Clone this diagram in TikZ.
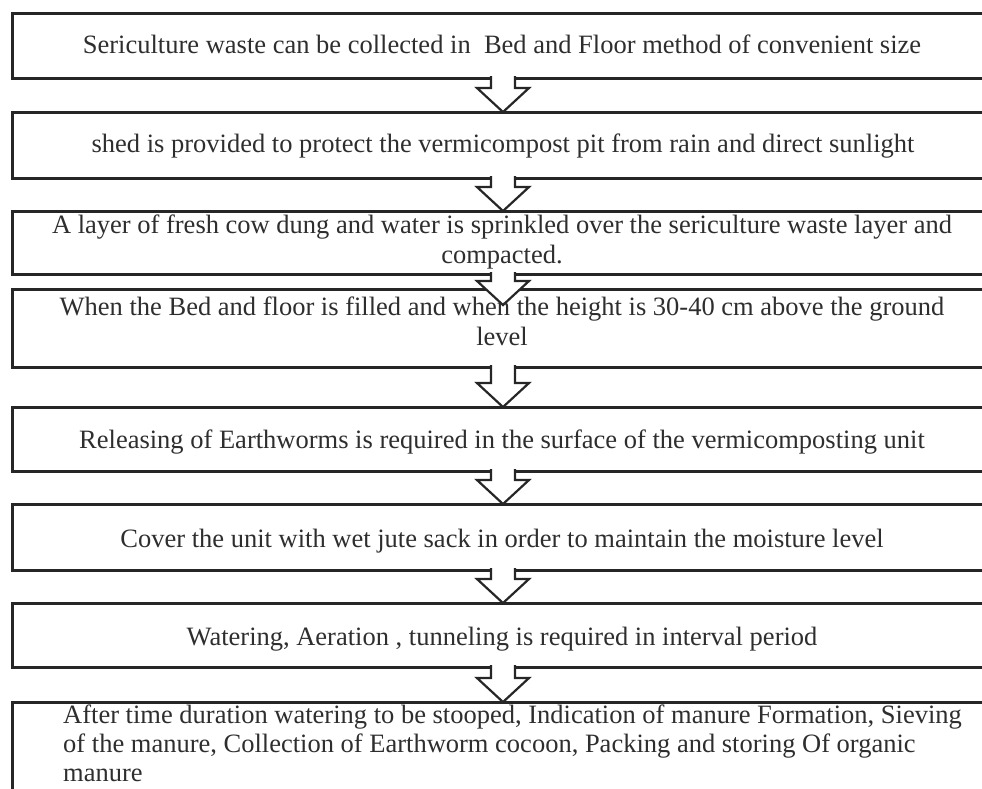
\documentclass[tikz,border=0pt]{standalone}
\usepackage{fontspec}
\setmainfont{Liberation Serif}
\usetikzlibrary{calc}
\definecolor{ink}{HTML}{262626}
\definecolor{txtc}{HTML}{2E2E2E}
\tikzset{
  stepbox/.style={draw=ink, line width=3pt, rectangle, minimum width=988pt, inner sep=0pt, outer sep=0pt},
  steptext/.style={text=txtc, font=\fontsize{26.5}{30}\selectfont, inner sep=0pt, align=center},
  blockarrow/.style={draw=ink, line width=2.2pt, fill=white, line join=miter}
}
\newcommand\flowarrow[2]{%
  \draw[blockarrow] let \p1=([xshift=-3pt]#1), \p2=([xshift=-3pt]#2) in
    (\x1-12pt,\y1+1.8pt) -- (\x1-12pt,\y2+24pt) -- (\x1-26pt,\y2+24pt) -- (\x1,\y2)
    -- (\x1+26pt,\y2+24pt) -- (\x1+12pt,\y2+24pt) -- (\x1+12pt,\y1+1.8pt);
}
\begin{document}
\begin{tikzpicture}[x=1pt,y=-1pt]
\useasboundingbox (0,0) rectangle (982,788);
\clip (0,0) rectangle (982,788);
\fill[white] (0,0) rectangle (982,788);
% boxes
\node[stepbox, minimum height=65pt] (b1) at (506,45.5) {};
\node[stepbox, minimum height=66pt] (b2) at (506,145) {};
\node[stepbox, minimum height=63pt] (b3) at (506,242.5) {};
\node[stepbox, minimum height=78pt] (b4) at (506,328) {};
\node[stepbox, minimum height=64pt] (b5) at (506,439) {};
\node[stepbox, minimum height=66pt] (b6) at (506,537) {};
\node[stepbox, minimum height=64pt] (b7) at (506,635) {};
\node[stepbox, minimum height=108pt] (b8) at (506,756) {};
% arrow end points
\coordinate (e34) at ([yshift=-16pt]b4.north);
% arrows
\flowarrow{b1.south}{b2.north}
\flowarrow{b2.south}{b3.north}
\flowarrow{b3.south}{e34}
\flowarrow{b4.south}{b5.north}
\flowarrow{b5.south}{b6.north}
\flowarrow{b6.south}{b7.north}
\flowarrow{b7.south}{b8.north}
% texts (anchor base = baseline of the last line)
\node[steptext, anchor=base] (t1) at (502,53) {Sericulture waste can be collected in\ \ Bed and Floor method of convenient size};
\node[steptext, anchor=base] (t2) at (503,152) {shed is provided to protect the vermicompost pit from rain and direct sunlight};
\node[steptext, anchor=base] (t3) at (502,263) {A layer of fresh cow dung and water is sprinkled over the sericulture waste layer and\\compacted.};
\node[steptext, anchor=base] (t4) at (502,345) {When the Bed and floor is filled and when the height is 30-40 cm above the ground\\level};
\node[steptext, anchor=base] (t5) at (502,448) {Releasing of Earthworms is required in the surface of the vermicomposting unit};
\node[steptext, anchor=base] (t6) at (502,547) {Cover the unit with wet jute sack in order to maintain the moisture level};
\node[steptext, anchor=base] (t7) at (502,645) {Watering, Aeration , tunneling is required in interval period};
\node[steptext, font=\fontsize{26.5}{29}\selectfont, align=left, anchor=base west] (t8) at (63,781) {After time duration watering to be stooped, Indication of manure Formation, Sieving\\of the manure, Collection of Earthworm cocoon, Packing and storing Of organic\\manure};
\end{tikzpicture}
\end{document}
